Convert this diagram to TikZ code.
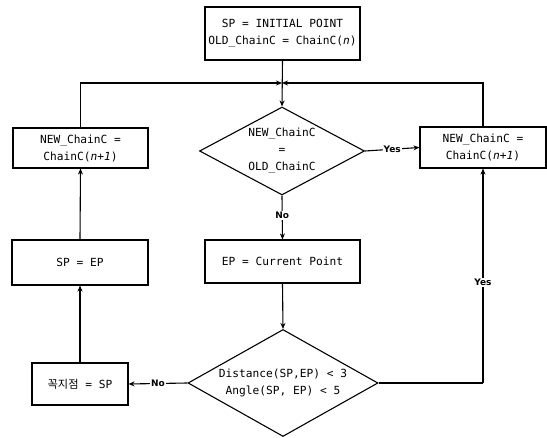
\documentclass[tikz,border=0pt]{standalone}
\usepackage{fontspec}
\setmainfont{DejaVu Sans Mono}
\newfontfamily\krfont{Noto Sans CJK KR}
\newfontfamily\labfont{DejaVu Sans}
\usetikzlibrary{shapes.geometric,arrows.meta}
\begin{document}
\begin{tikzpicture}[x=1pt,y=-1pt,
  box/.style={draw,line width=1.1pt,rectangle,inner sep=0pt,align=center,font=\fontsize{11.2}{17}\selectfont},
  dia/.style={draw,line width=1.1pt,diamond,inner sep=0pt,align=center,font=\fontsize{11.2}{17}\selectfont},
  arr/.style={line width=1.1pt,-{Stealth[length=6pt,width=5pt]}},
  ln/.style={line width=1.1pt},
  lab/.style={fill=white,inner sep=1pt,font=\labfont\fontsize{9}{10}\selectfont\bfseries}]
\useasboundingbox (0,0) rectangle (547,438);
\node[box,minimum width=155,minimum height=53] (top) at (282.5,33.5) {SP = INITIAL POINT\\OLD\_ChainC = ChainC(\textit{n})};
\coordinate (J) at (282,83);
\node[dia,aspect=1.9,minimum width=165,minimum height=88] (d1) at (282,151) {NEW\_ChainC\\=\\OLD\_ChainC};
\node[box,minimum width=135,minimum height=40] (lb) at (80.5,148) {NEW\_ChainC =\\ChainC(\textit{n+1})};
\node[box,minimum width=126,minimum height=41] (rb) at (483,147.5) {NEW\_ChainC =\\ChainC(\textit{n+1})};
\node[box,minimum width=136,minimum height=45] (speq) at (80,262.5) {SP = EP};
\node[box,minimum width=155,minimum height=43] (ep) at (282.5,261.5) {EP = Current Point};
\node[dia,aspect=1.76,minimum width=190,minimum height=107] (d2) at (283,383) {Distance(SP,EP) < 3\\Angle(SP, EP) < 5};
\node[box,minimum width=96,minimum height=42] (kb) at (80,384) {{\krfont 꼭지점} = SP};
\coordinate (RC) at (483,383);
\draw[arr] (top.south) -- (d1.north);
\draw[arr] (lb.north) |- (J);
\draw[arr] (rb.north) |- (J);
\draw[arr] (d1.east) -- node[lab] {Yes} (rb.west);
\draw[arr] (d1.south) -- node[lab,pos=0.45] {No} (ep.north);
\draw[arr] (ep.south) -- (d2.north);
\draw[ln] (d2.east) -- (RC);
\draw[arr] (RC) -- node[lab,pos=0.47] {Yes} (rb.south);
\draw[arr] (d2.west) -- node[lab,pos=0.5] {No} (kb.east);
\draw[arr] (kb.north) -- (speq.south);
\draw[arr] (speq.north) -- (lb.south);
\end{tikzpicture}
\end{document}
